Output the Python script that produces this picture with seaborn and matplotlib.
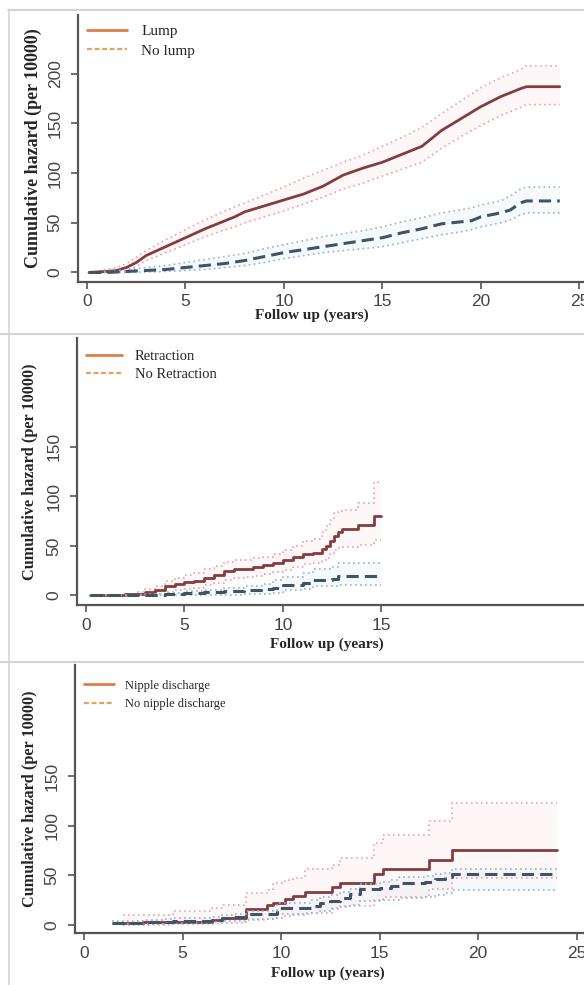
import matplotlib
matplotlib.use('Agg')
import matplotlib.pyplot as plt
from matplotlib import font_manager
from matplotlib.lines import Line2D
import seaborn as sns

sns.set_theme(style='white')
plt.rcParams['font.family'] = ['Liberation Serif', 'DejaVu Serif']

# ===== Data =====
# Panel 1: lump vs no lump
lump_t = [0.1, 1.0, 1.5, 2.0, 2.5, 3, 4, 5, 6, 7, 7.5, 8, 9, 10, 11, 12, 13, 14,
          15, 16, 17, 18, 19, 20, 21, 22, 22.3, 24]
lump_h = [0, 1, 2, 5, 10, 17, 26, 35, 44, 52, 56, 61, 67, 73, 79, 87, 98, 105,
          111, 119, 127, 143, 155, 167, 177, 185, 187, 187]
lump_hi = [0, 3, 5, 9, 15, 22, 33, 43, 53, 62, 66, 70, 78, 86, 95, 103, 111, 118,
           127, 136, 146, 160, 173, 186, 196, 204, 208, 208]
lump_lo = [0, 0, 1, 2, 6, 12, 20, 28, 36, 43, 46, 50, 56, 62, 69, 76, 84, 90,
           97, 104, 111, 125, 137, 148, 158, 166, 169, 169]

nolump_t = [0.1, 1, 2, 3, 4, 5, 6, 7, 8, 9, 10, 11, 12, 13, 14, 15, 16, 17, 18,
            19, 19.5, 20, 21, 21.5, 22, 22.3, 24]
nolump_h = [0, 0, 1, 2, 3, 5, 7, 9, 12, 16, 20, 23, 26, 29, 32, 35, 40, 44, 49,
            51, 52, 56, 60, 63, 70, 72, 72]
nolump_hi = [0, 1, 3, 5, 7, 10, 13, 16, 19, 24, 28, 32, 36, 39, 42, 46, 51, 55,
             60, 63, 65, 68, 72, 77, 84, 86, 86]
nolump_lo = [0, 0, 0, 0.5, 1, 2, 3, 5, 7, 10, 14, 17, 20, 22, 24, 26, 30, 34, 38,
             41, 43, 46, 50, 53, 58, 60, 60]

# Panel 2: retraction vs no retraction
retr_t = [0.2, 2.0, 2.5, 3.0, 3.5, 4.0, 4.5, 5.0, 5.5, 6.0, 6.5, 7.0, 7.5, 8.0,
          8.5, 9.0, 9.5, 10.0, 10.5, 11.0, 11.5, 12.0, 12.2, 12.4, 12.6, 12.8,
          13.0, 13.8, 14.6, 15.0]
retr_h = [0, 1, 2, 4, 6, 10, 12, 14, 15, 18, 21, 25, 27, 27, 29, 31, 33, 36, 39,
          42, 43, 47, 50, 55, 60, 64, 67, 71, 80, 80]
retr_hi = [0, 2, 4, 7, 10, 15, 18, 21, 23, 27, 30, 34, 36, 36, 38, 39, 42, 46,
           50, 55, 57, 64, 70, 76, 83, 85, 86, 93, 115, 115]
retr_lo = [0, 0, 0, 1, 2, 4, 6, 7, 8, 11, 13, 16, 18, 19, 20, 22, 24, 26, 29,
           32, 33, 36, 38, 42, 46, 48, 49, 51, 56, 56]

noretr_t = [0.2, 3.0, 4.0, 5.0, 6.0, 7.0, 8.0, 9.0, 9.5, 10.0, 11.0, 11.5, 12.5,
            12.8, 15.0]
noretr_h = [0, 0.5, 1.5, 2.5, 3.5, 4.5, 5.5, 6.5, 7.5, 11, 12.5, 16, 17, 20, 20]
noretr_hi = [0, 1.5, 3, 4.5, 6, 8, 10, 12, 16, 19, 23, 27, 29, 33, 33]
noretr_lo = [0, 0, 0, 0, 0, 0.5, 1, 2, 3, 5.5, 7, 9.5, 10, 11, 11]

# Panel 3: nipple discharge vs no nipple discharge
nip_t = [2.0, 3.0, 4.5, 6.5, 7.0, 8.2, 9.3, 9.6, 10.2, 10.6, 11.2, 12.6, 13.0,
         14.7, 15.2, 17.5, 18.7, 24.0]
nip_h = [1.5, 2.5, 3.5, 5.5, 7.5, 16.5, 20, 22.5, 26, 29, 33, 38, 42, 51, 57, 66,
         76, 76]
nip_hi = [10, 10, 14, 17.5, 20, 32, 35, 42, 45, 47, 56, 61, 68, 83, 91, 105, 123,
          123]
nip_lo = [0, 0, 0.5, 1, 1.5, 5, 6, 7, 9, 10, 12, 17, 19, 25, 28, 36, 47, 47]

nonip_t = [1.4, 2.0, 3.0, 4.0, 4.5, 6.5, 7.0, 7.5, 8.2, 9.8, 11.5, 12.0, 12.5,
           13.0, 13.5, 14.0, 15.0, 15.6, 16.0, 17.3, 17.8, 18.3, 18.7, 24.0]
nonip_h = [2, 2, 2.5, 3.5, 4.5, 5.5, 7.5, 8.5, 11, 17.5, 19, 22, 24, 27.5, 31, 36,
           37.5, 39, 42.5, 43, 46, 48, 51, 51]
nonip_hi = [4, 4, 5, 6, 7, 8, 10, 11, 14, 22, 25, 28, 30, 33, 36, 41, 43, 45, 48,
            49, 51, 52, 56, 56]
nonip_lo = [0.5, 0.5, 1, 1.5, 2, 3, 4, 4.5, 6, 11, 12, 14, 16, 18, 20, 24, 25,
            25.5, 27, 28, 30, 32, 35, 35]

# ===== Styles =====
W, H = 584, 985
RED, RED_CI = '#853c40', '#f2a0a4'
BLUE, BLUE_CI = '#3f5565', '#8fb5d5'
ORANGE, ORANGE_D = '#e07d48', '#e9a05c'
AXIS_GREY = '#555555'

_names = {f.name for f in font_manager.fontManager.ttflist}
TICK_FONT = 'Liberation Sans Narrow' if 'Liberation Sans Narrow' in _names else 'Liberation Sans'


def draw_curve(ax, t, h, lo, hi, color, ci_color, fill, dashed, steps):
    ds = 'steps-post' if steps else 'default'
    step = 'post' if steps else None
    ax.fill_between(t, lo, hi, color=fill, alpha=0.18, lw=0, step=step)
    for band in (lo, hi):
        sns.lineplot(x=t, y=band, ax=ax, color=ci_color, lw=1.2,
                     linestyle=(0, (1, 2)), drawstyle=ds,
                     estimator=None, sort=False)
    ls = (0, (4, 2)) if dashed else '-'
    sns.lineplot(x=t, y=h, ax=ax, color=color, lw=2.0 if not dashed else 2.2,
                 linestyle=ls, drawstyle=ds, estimator=None, sort=False)


def style_panel(ax, box, xticks, yticks, xlim, ylim, labels, ylab_fs, ylab_x,
                xlab_pos, leg_fs, leg_anchor, leg_space, leg_len, leg_pad):
    left, top, bottom = box
    ax.set_position([left / W, 1 - bottom / H, (W - left) / W, (bottom - top) / H])
    ax.set_xlim(*xlim)
    ax.set_ylim(*ylim)
    ax.set_xticks(xticks)
    ax.set_yticks(yticks)
    sns.despine(ax=ax)
    for side in ('left', 'bottom'):
        ax.spines[side].set_color(AXIS_GREY)
        ax.spines[side].set_linewidth(1.6)
    ax.tick_params(axis='both', which='major', direction='out', length=5,
                   width=1.2, color=AXIS_GREY, labelcolor='#444444',
                   labelsize=12.5, left=True, bottom=True)
    ax.tick_params(axis='y', pad=6)
    ax.tick_params(axis='x', pad=4)
    for lab in ax.get_xticklabels() + ax.get_yticklabels():
        lab.set_fontfamily(TICK_FONT)
    for lab in ax.get_yticklabels():
        lab.set_rotation(90)
        lab.set_va('center')
    ax.set_xlabel('Follow up (years)', fontsize=11, fontweight='bold')
    ax.set_ylabel('Cumulative hazard (per 10000)', fontsize=ylab_fs,
                  fontweight='bold')
    ax.xaxis.set_label_coords(*xlab_pos)
    ax.yaxis.set_label_coords(ylab_x, 0.5)
    handles = [Line2D([], [], color=ORANGE, lw=2),
               Line2D([], [], color=ORANGE_D, lw=1.6, linestyle=(0, (2.2, 1.2)))]
    ax.legend(handles, labels, loc='upper left', bbox_to_anchor=leg_anchor,
              frameon=False, fontsize=leg_fs, handlelength=leg_len,
              handletextpad=leg_pad, labelspacing=leg_space, borderaxespad=0,
              borderpad=0)
    ax.set_facecolor('white')


fig = plt.figure(figsize=(W / 100, H / 100), dpi=100)
fig.patch.set_facecolor('white')

# screenshot frame lines
grey = '#d4d4d4'
for y in (10, 334, 662):
    fig.add_artist(Line2D([0 if y > 10 else 8 / W, 1], [1 - y / H] * 2,
                          transform=fig.transFigure, color=grey, lw=1.5))
fig.add_artist(Line2D([9 / W] * 2, [0, 1 - 10 / H], transform=fig.transFigure,
                      color=grey, lw=1.2))

ax1 = fig.add_axes([0, 0, 1, 1])
draw_curve(ax1, lump_t, lump_h, lump_lo, lump_hi, RED, RED_CI, '#fbd6d6', False, False)
draw_curve(ax1, nolump_t, nolump_h, nolump_lo, nolump_hi, BLUE, BLUE_CI, '#d6e6f4', True, False)
style_panel(ax1, (78, 15, 281.7), range(0, 30, 5), range(0, 250, 50),
            (-0.457, 25.23), (-9.3, 259.2), ['Lump', 'No lump'], 13,
            (42 - 78) / (W - 78), ((312 - 78) / (W - 78), (281.7 - 309) / 266.7),
            11, (0.018, 0.965), 0.38, 2.6, 0.95)

ax2 = fig.add_axes([0, 0, 1, 1])
draw_curve(ax2, retr_t, retr_h, retr_lo, retr_hi, RED, RED_CI, '#fbd6d6', False, True)
draw_curve(ax2, noretr_t, noretr_h, noretr_lo, noretr_hi, BLUE, BLUE_CI, '#d6e6f4', True, True)
style_panel(ax2, (77, 338, 605), range(0, 20, 5), range(0, 200, 50),
            (-0.457, 25.28), (-9.6, 259.8), ['Retraction', 'No Retraction'], 11.7,
            (38 - 77) / (W - 77), ((327 - 77) / (W - 77), (605 - 638) / 267),
            10.5, (0.018, 0.955), 0.3, 2.45, 0.9)

ax3 = fig.add_axes([0, 0, 1, 1])
draw_curve(ax3, nip_t, nip_h, nip_lo, nip_hi, RED, RED_CI, '#fbd6d6', False, True)
draw_curve(ax3, nonip_t, nonip_h, nonip_lo, nonip_hi, BLUE, BLUE_CI, '#d6e6f4', True, True)
style_panel(ax3, (75, 665, 933), range(0, 30, 5), range(0, 200, 50),
            (-0.457, 25.38), (-8.1, 262.4), ['Nipple discharge', 'No nipple discharge'],
            11.7, (38 - 75) / (W - 75), ((328 - 75) / (W - 75), (933 - 967) / 268),
            9, (0.018, 0.945), 0.5, 2.4, 0.88)

fig.savefig('out.png', dpi=100, facecolor='white')
